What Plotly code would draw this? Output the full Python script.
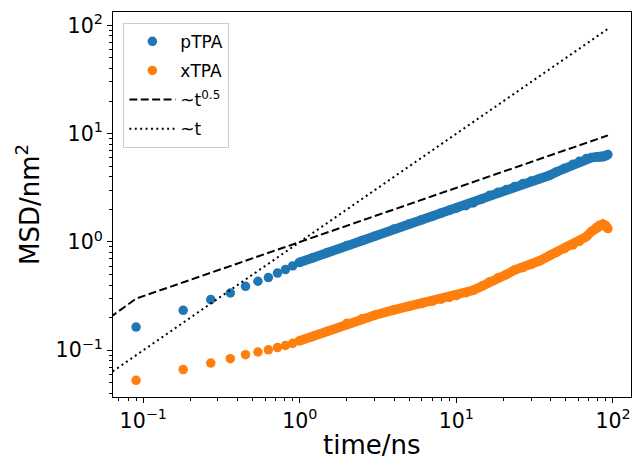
import numpy as np
import plotly.graph_objects as go

# ---- data ----
time_ns = [0.09, 0.18, 0.27, 0.36, 0.45, 0.54, 0.63, 0.72, 0.81, 0.90, 0.99,
           1.2, 1.5, 2.0, 2.5, 3.0, 4.0, 5.0, 6.0, 7.0, 8.0, 9.0, 10.0, 11.5,
           12.8, 14.5, 16.3, 18.5, 20.8, 23.5, 26.6, 30.0, 34.0, 39.4, 43.5,
           49.0, 55.5, 61.0, 67.6, 73.0, 78.2, 82.0, 86.2, 89.5, 92.8]
msd_ptpa = [0.164, 0.234, 0.294, 0.338, 0.39, 0.434, 0.469, 0.517, 0.556, 0.601,
            0.645, 0.71, 0.80, 0.93, 1.03, 1.13, 1.32, 1.47, 1.60, 1.72, 1.85,
            1.96, 2.05, 2.16, 2.29, 2.48, 2.70, 2.88, 3.05, 3.25, 3.46, 3.65,
            3.85, 4.13, 4.43, 4.80, 5.22, 5.55, 5.89, 6.02, 6.09, 6.08, 6.09,
            6.25, 6.41]
msd_xtpa = [0.0528, 0.0664, 0.0763, 0.0838, 0.0912, 0.0965, 0.101, 0.106, 0.111,
            0.116, 0.122, 0.134, 0.150, 0.178, 0.196, 0.211, 0.236, 0.255, 0.270,
            0.283, 0.296, 0.308, 0.32, 0.34, 0.358, 0.39, 0.43, 0.47, 0.50, 0.55,
            0.58, 0.62, 0.67, 0.75, 0.80, 0.87, 0.94, 1.01, 1.12, 1.25, 1.36,
            1.43, 1.46, 1.42, 1.33]

# reference power laws: time grid starts at t = 0 (as in the original)
t_ref = [0.0, time_ns[0], time_ns[-1]]
ref_exponents = [0.5, 1.0]
ref_names = ["~t<sup>0.5</sup>", "~t"]
ref_dash = ["8px,3.4px", "2px,3.4px"]

tick_vals = [0.1, 1, 10, 100]
tick_text = ["10<sup>\u22121</sup>", "10<sup>0</sup>", "10<sup>1</sup>", "10<sup>2</sup>"]

x_title = "time/ns"
y_title = "MSD/nm<sup>2</sup>"

series_names = ["pTPA", "xTPA"]
series_colors = ["#1f77b4", "#ff7f0e"]

# ---- figure ----
t = np.array(time_ns)
EPS = 1e-12  # log axis: emulate clipping of non-positive values
fig = go.Figure()

for i, (name, vals, col) in enumerate(zip(series_names, [msd_ptpa, msd_xtpa], series_colors)):
    v = np.array(vals)
    dense = t >= 0.99
    fig.add_trace(go.Scatter(x=t[dense], y=v[dense], mode="lines",
                             line=dict(color=col, width=9.5), showlegend=False,
                             hoverinfo="skip"))
    fig.add_trace(go.Scatter(x=t, y=v, mode="markers", name=name,
                             legendgroup=name,
                             marker=dict(color=col, size=9.5, line=dict(width=0))))

tr = np.array(t_ref)
for expo, nm, dsh in zip(ref_exponents, ref_names, ref_dash):
    yr = tr ** expo
    xr = np.where(tr <= 0, EPS, tr)
    yr = np.where(yr <= 0, EPS, yr)
    fig.add_trace(go.Scatter(x=xr, y=yr, mode="lines", name=nm, legendgroup=nm,
                             line=dict(color="black", width=2, dash=dsh)))

def minor_vals(lo, hi):
    out = []
    for e in range(lo, hi):
        for m in range(2, 10):
            out.append(m * 10.0 ** e)
    return out

axis_common = dict(
    type="log", showline=True, linecolor="black", linewidth=1.1, mirror=True,
    ticks="outside", ticklen=5, tickwidth=1, tickcolor="black",
    showgrid=False, zeroline=False,
    tickmode="array", tickvals=tick_vals, ticktext=tick_text,
    tickfont=dict(family="DejaVu Sans", size=20.5, color="black"),
)

fig.update_xaxes(**axis_common, range=[-1.193, 2.115],
                 minor=dict(tickvals=minor_vals(-2, 3), ticks="outside",
                            ticklen=3, tickwidth=1, tickcolor="black", showgrid=False))
fig.update_yaxes(**axis_common, range=[-1.431, 2.123],
                 minor=dict(tickvals=minor_vals(-2, 3), ticks="outside",
                            ticklen=3, tickwidth=1, tickcolor="black", showgrid=False),
                 title=dict(text=y_title, font=dict(family="DejaVu Sans", size=26, color="black"),
                            standoff=8))

fig.add_annotation(text=x_title, xref="paper", yref="paper", x=0.5, y=-0.124,
                   xanchor="center", yanchor="middle", showarrow=False,
                   font=dict(family="DejaVu Sans", size=26, color="black"))

fig.update_layout(
    width=634, height=460,
    margin=dict(l=113, r=3, t=12, b=63),
    paper_bgcolor="white", plot_bgcolor="white",
    font=dict(family="DejaVu Sans", color="black"),
    legend=dict(x=0.02, y=0.972, xanchor="left", yanchor="top",
                bgcolor="rgba(255,255,255,0.8)", bordercolor="#cccccc", borderwidth=1,
                font=dict(family="DejaVu Sans", size=17, color="black"),
                tracegroupgap=4, itemwidth=46),
)

fig.write_html("out.html", config={"displayModeBar": False},
               post_script="document.body.style.margin='0px';document.body.style.overflow='hidden';")
